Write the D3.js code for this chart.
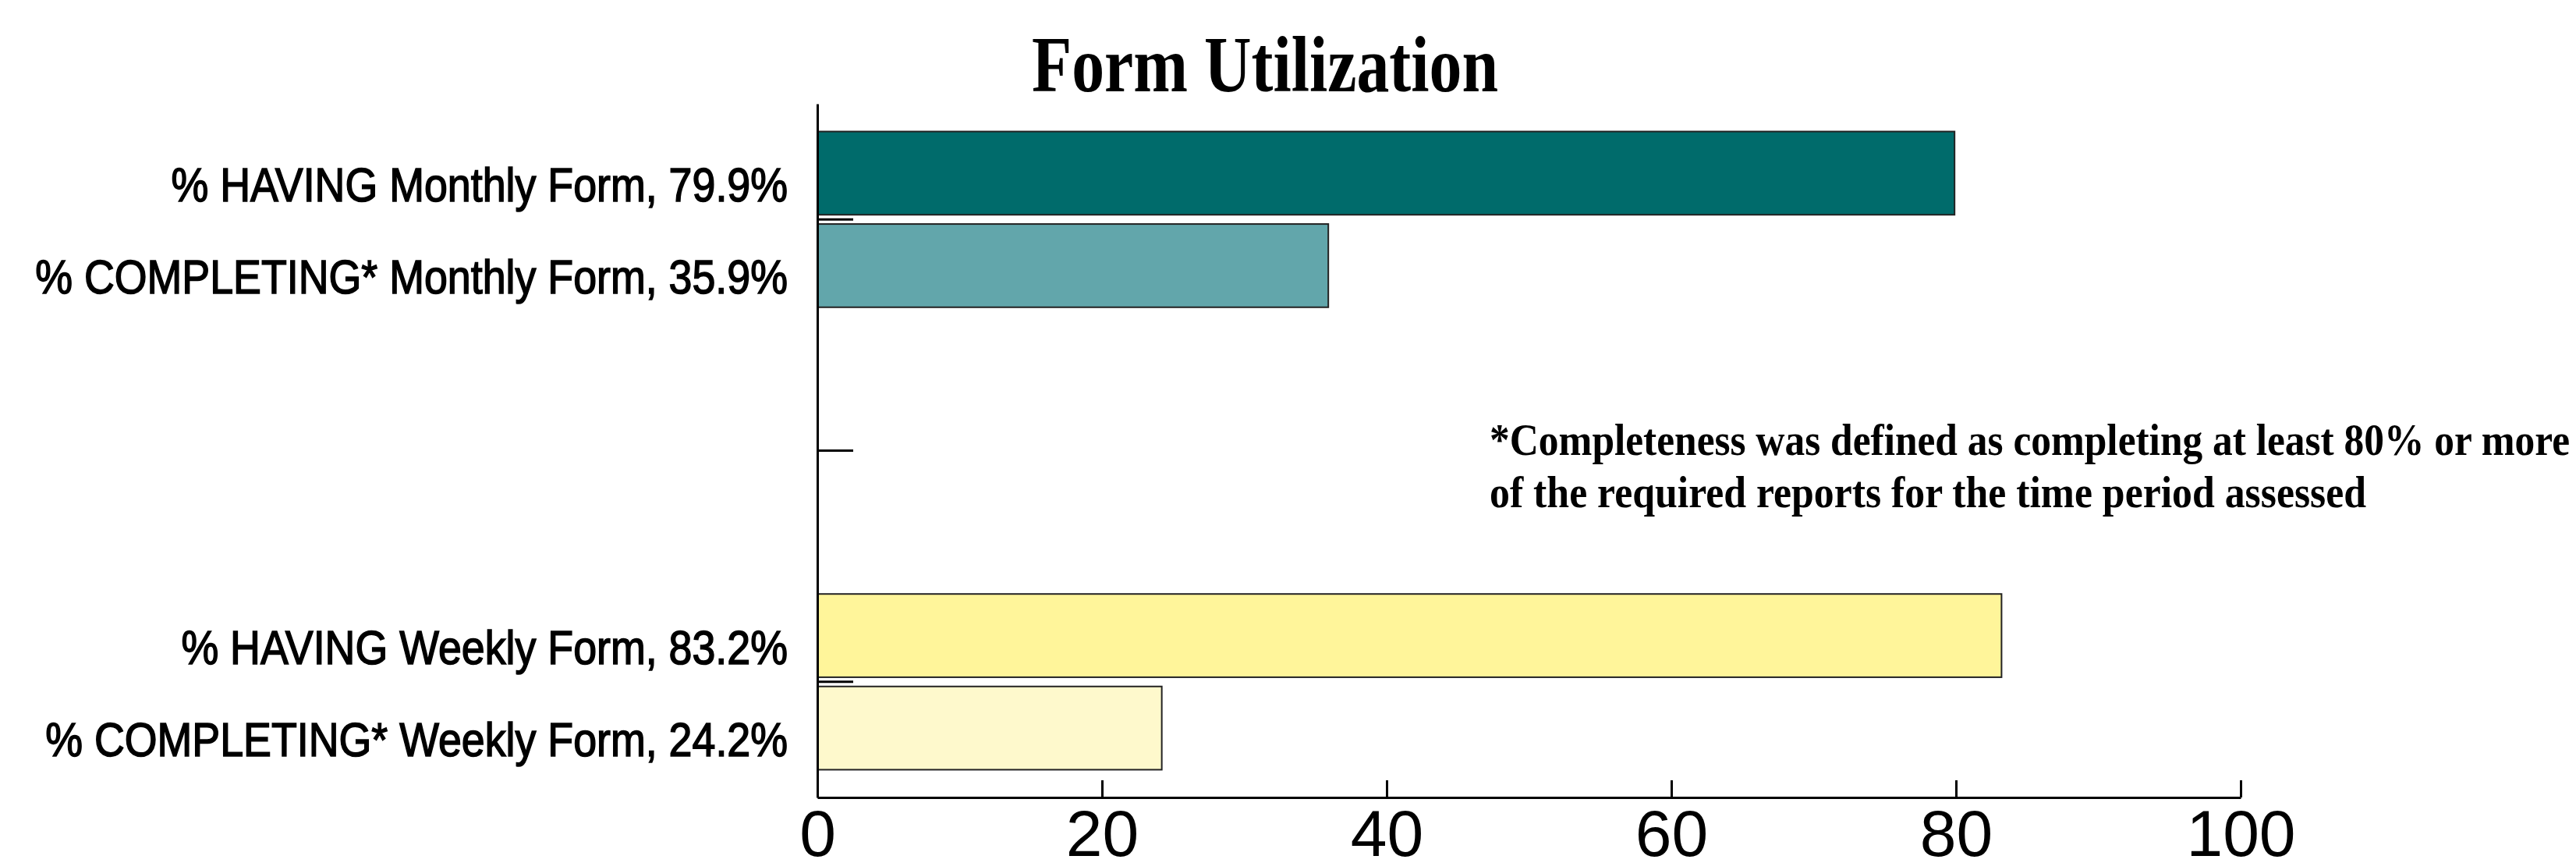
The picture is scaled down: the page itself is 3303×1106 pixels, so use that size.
<!DOCTYPE html>
<html>
<head>
<meta charset="utf-8">
<script src="https://cdn.jsdelivr.net/npm/d3@7"></script>
<style>
  body { margin: 0; background: #fff; }
  svg { display: block; }
</style>
</head>
<body>
<svg id="chart"></svg>
<script>
// Data
const groups = ["Monthly Form", "gap", "Weekly Form"];
const series = ["% HAVING", "% COMPLETING*"];
const having = [79.9, null, 83.2];
const completing = [35.9, null, 24.2];
const xTicks = [0, 20, 40, 60, 80, 100];
const title = "Form Utilization";
const note = ["*Completeness was defined as completing at least 80% or more",
              "of the required reports for the time period assessed"];

const colors = {
  "% HAVING": ["#006b6b", null, "#fff59a"],
  "% COMPLETING*": ["#62a6ab", null, "#fef9cc"]
};

let width = 3303;
let height = 1106;
let margin = { top: 133, right: 430, bottom: 84, left: 1048 };

let svg = d3.select("#chart")
    .attr("width", width)
    .attr("height", height);

// rows of bars, one per group/series
let rows = [];
groups.forEach((g, i) => {
    if (having[i] != null) rows.push({ group: g, s: series[0], v: having[i], c: colors[series[0]][i] });
    if (completing[i] != null) rows.push({ group: g, s: series[1], v: completing[i], c: colors[series[1]][i] });
});

let xScale = d3.scaleLinear()
    .domain([0, 100])
    .range([margin.left, width - margin.right]);

let yGroup = d3.scaleBand()
    .domain(groups)
    .range([margin.top, height - margin.bottom])
    .paddingInner(0)
    .paddingOuter(0);

let ySeries = d3.scaleBand()
    .domain(series)
    .range([0, yGroup.bandwidth()])
    .paddingInner(0.1)
    .paddingOuter(0.3);

// bars
svg.selectAll(".bar")
    .data(rows)
    .enter().append("rect")
    .attr("class", "bar")
    .attr("x", xScale(0))
    .attr("y", d => yGroup(d.group) + ySeries(d.s))
    .attr("width", d => xScale(d.v) - xScale(0))
    .attr("height", ySeries.bandwidth())
    .attr("fill", d => d.c)
    .attr("stroke", "#222")
    .attr("stroke-width", 2);

// y axis (ticks at group centres, pointing into the plot)
let yAxis = svg.append("g")
    .attr("transform", `translate(${margin.left}, 0)`)
    .call(d3.axisLeft(yGroup).tickSizeInner(-46).tickSizeOuter(0).tickFormat(""));
yAxis.selectAll("path, line").attr("stroke", "#000").attr("stroke-width", 3);

// x axis
let xAxis = svg.append("g")
    .attr("transform", `translate(0, ${height - margin.bottom})`)
    .call(d3.axisBottom(xScale).tickValues(xTicks).tickSizeInner(-22).tickSizeOuter(0).tickPadding(15));
xAxis.selectAll("path, line").attr("stroke", "#000").attr("stroke-width", 3);
xAxis.selectAll("text")
    .attr("fill", "#000")
    .style("font-family", "'Liberation Sans', Arial, sans-serif")
    .style("font-size", "84px");

// bar labels on the left
let labels = svg.selectAll(".label")
    .data(rows)
    .enter().append("text")
    .attr("class", "label")
    .attr("text-anchor", "end")
    .style("font-family", "'Liberation Sans Narrow', 'Arial Narrow', 'Liberation Sans', sans-serif")
    .style("font-size", "62px")
    .attr("fill", "#000")
    .attr("stroke", "#000")
    .attr("stroke-width", 1.6)
    .text(d => `${d.s} ${d.group}, ${d.v}%`);

// squeeze labels so the longest one is ~965px wide
let longest = d3.max(labels.nodes(), n => n.getComputedTextLength());
let k = 965 / longest;
labels.attr("transform", d => {
    let cy = yGroup(d.group) + ySeries(d.s) + ySeries.bandwidth() / 2 + 36;
    return `translate(${margin.left - 38}, ${cy}) scale(${k}, 1)`;
});

// title
svg.append("text")
    .attr("x", 1622)
    .attr("y", 117)
    .attr("text-anchor", "middle")
    .attr("textLength", 598)
    .attr("lengthAdjust", "spacingAndGlyphs")
    .style("font-family", "'Liberation Serif', 'Times New Roman', serif")
    .style("font-weight", "bold")
    .style("font-size", "101px")
    .text(title);

// footnote
let noteWidths = [1385, 1124];
note.forEach((line, i) => {
    svg.append("text")
        .attr("x", 1910)
        .attr("y", 583 + i * 67)
        .attr("textLength", noteWidths[i])
        .attr("lengthAdjust", "spacingAndGlyphs")
        .style("font-family", "'Liberation Serif', 'Times New Roman', serif")
        .style("font-weight", "bold")
        .style("font-size", "58px")
        .text(line);
});
</script>
</body>
</html>
